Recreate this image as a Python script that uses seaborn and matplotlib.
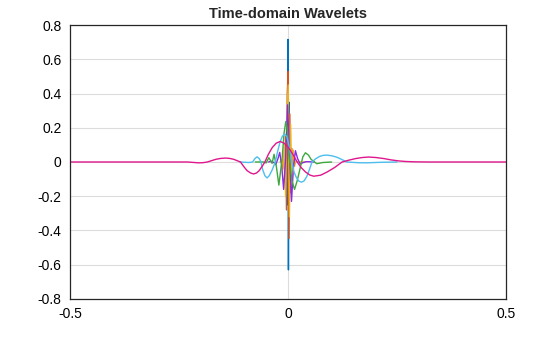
import matplotlib
matplotlib.use("Agg")
import matplotlib.pyplot as plt
import seaborn as sns
import pandas as pd

# ---- data (time, value) ----
blue_t = [-0.006, -0.004, -0.003, -0.002, -0.001, 0.0, 0.001, 0.002, 0.003, 0.004, 0.006]
blue_v = [0.0, -0.04, 0.10, -0.25, 0.40, 0.716, -0.63, 0.35, -0.15, 0.05, 0.0]

orange_t = [-0.012, -0.0095, -0.0075, -0.0055, -0.0035, -0.0015, 0.0003, 0.0022, 0.0042, 0.0062, 0.0082, 0.0102, 0.0125, 0.015]
orange_v = [0.0, 0.02, -0.07, 0.15, -0.28, 0.40, 0.528, -0.447, 0.28, -0.18, 0.08, -0.03, 0.01, 0.0]

yellow_t = [-0.018, -0.0145, -0.0115, -0.0085, -0.0055, -0.0025, 0.0005, 0.0032, 0.006, 0.009, 0.012, 0.015, 0.018, 0.022, 0.04]
yellow_v = [0.0, 0.015, -0.04, 0.10, -0.20, 0.30, 0.45, -0.32, 0.22, -0.15, 0.07, -0.025, 0.006, 0.0, 0.0]

purple_t = [-0.045, -0.038, -0.032, -0.028, -0.023, -0.019, -0.0145, -0.010, -0.0055, -0.001, 0.0035, 0.008, 0.0125, 0.017, 0.022, 0.028, 0.034, 0.042, 0.06]
purple_v = [0.0, 0.004, -0.004, -0.015, 0.02, 0.056, -0.02, -0.16, 0.02, 0.334, 0.03, -0.23, -0.03, 0.066, 0.02, -0.012, -0.004, 0.002, 0.0]

green_t = [-0.075, -0.056, -0.050, -0.044, -0.040, -0.0365, -0.032, -0.0265, -0.021, -0.0135, -0.009, -0.005, -0.001, 0.003, 0.009, 0.015, 0.021, 0.0275, 0.034, 0.040, 0.047, 0.053, 0.066, 0.08, 0.10]
green_v = [0.0, 0.0, -0.005, 0.025, 0.008, -0.008, 0.045, -0.03, -0.135, 0.02, 0.17, 0.237, 0.17, 0.02, -0.11, -0.16, -0.11, -0.04, 0.03, 0.054, 0.04, 0.015, -0.01, -0.003, 0.0]

cyan_t = [-0.11, -0.09, -0.081, -0.076, -0.071, -0.066, -0.062, -0.058, -0.053, -0.048, -0.043, -0.037, -0.029, -0.024, -0.019, -0.013, -0.008, -0.003, 0.001, 0.005, 0.009, 0.014, 0.019, 0.025, 0.031, 0.037, 0.043, 0.049, 0.055, 0.063, 0.072, 0.081, 0.09, 0.101, 0.112, 0.124, 0.135, 0.16, 0.18, 0.21, 0.25]
cyan_v = [0.0, -0.003, 0.0, 0.02, 0.03, 0.02, 0.0, -0.045, -0.08, -0.093, -0.08, -0.05, 0.0, 0.06, 0.11, 0.15, 0.163, 0.15, 0.11, 0.06, 0.0, -0.06, -0.09, -0.112, -0.118, -0.11, -0.085, -0.045, 0.0, 0.018, 0.032, 0.039, 0.04, 0.036, 0.028, 0.014, 0.0, -0.004, -0.005, -0.002, 0.0]

magenta_t = [-0.5, -0.23, -0.215, -0.205, -0.195, -0.185, -0.175, -0.165, -0.154, -0.143, -0.134, -0.125, -0.117, -0.109, -0.101, -0.094, -0.086, -0.079, -0.072, -0.066, -0.06, -0.053, -0.045, -0.036, -0.027, -0.018, -0.009, 0.001, 0.011, 0.021, 0.03, 0.04, 0.05, 0.059, 0.075, 0.09, 0.107, 0.124, 0.14, 0.155, 0.17, 0.185, 0.202, 0.22, 0.237, 0.255, 0.27, 0.29, 0.32, 0.5]
magenta_v = [0.0, 0.0, -0.003, -0.005, -0.004, 0.0, 0.008, 0.016, 0.021, 0.023, 0.021, 0.016, 0.008, 0.0, -0.028, -0.05, -0.064, -0.07, -0.064, -0.05, -0.028, 0.0, 0.045, 0.085, 0.11, 0.12, 0.11, 0.085, 0.045, 0.0, -0.032, -0.058, -0.076, -0.083, -0.077, -0.058, -0.032, 0.0, 0.011, 0.02, 0.026, 0.029, 0.026, 0.02, 0.012, 0.006, 0.003, 0.001, 0.0, 0.0]

names = ["w1", "w2", "w3", "w4", "w5", "w6", "w7"]
colors = ["#0072BD", "#D95319", "#EDB120", "#8A2BE2", "#3DA83D", "#4DBEEE", "#E0168C"]
series = [(blue_t, blue_v), (orange_t, orange_v), (yellow_t, yellow_v),
          (purple_t, purple_v), (green_t, green_v), (cyan_t, cyan_v),
          (magenta_t, magenta_v)]

x_ticks = [-0.5, 0, 0.5]
x_labels = ["-0.5", "0", "0.5"]
y_ticks = [-0.8, -0.6, -0.4, -0.2, 0, 0.2, 0.4, 0.6, 0.8]
y_labels = ["-0.8", "-0.6", "-0.4", "-0.2", "0", "0.2", "0.4", "0.6", "0.8"]

rows = []
for name, (ts, vs) in zip(names, series):
    for t, v in zip(ts, vs):
        rows.append({"t": t, "v": v, "wavelet": name})
df = pd.DataFrame(rows)

sns.set_style("white")
plt.rcParams["font.family"] = ["Liberation Sans", "DejaVu Sans"]

fig = plt.figure(figsize=(5.6, 3.37), dpi=100)
ax = fig.add_axes([0.125, 0.1128, 0.7786, 0.813])

ax.grid(True, axis="y", color="#dcdcdc", linewidth=0.8)
ax.axvline(0, color="#dcdcdc", linewidth=0.8, zorder=0)

for name, col in zip(names, colors):
    sub = df[df["wavelet"] == name]
    sns.lineplot(data=sub, x="t", y="v", color=col, sort=False,
                 estimator=None, linewidth=1.0, ax=ax, legend=False)

ax.set_xlim(-0.5, 0.5)
ax.set_ylim(-0.8, 0.8)
ax.set_xticks(x_ticks)
ax.set_xticklabels(x_labels)
ax.set_yticks(y_ticks)
ax.set_yticklabels(y_labels)
ax.set_xlabel("")
ax.set_ylabel("")
ax.tick_params(axis="both", direction="in", length=3, width=0.8, labelsize=10,
               colors="#262626", labelcolor="black")
ax.tick_params(axis="x", pad=6)
ax.tick_params(axis="y", length=0, pad=6)
for s in ax.spines.values():
    s.set_visible(True)
    s.set_color("#262626")
    s.set_linewidth(0.9)
ax.set_axisbelow(True)
ax.set_title("Time-domain Wavelets", fontsize=10.5, fontweight="bold", pad=5)

fig.savefig("out.png", dpi=100)
